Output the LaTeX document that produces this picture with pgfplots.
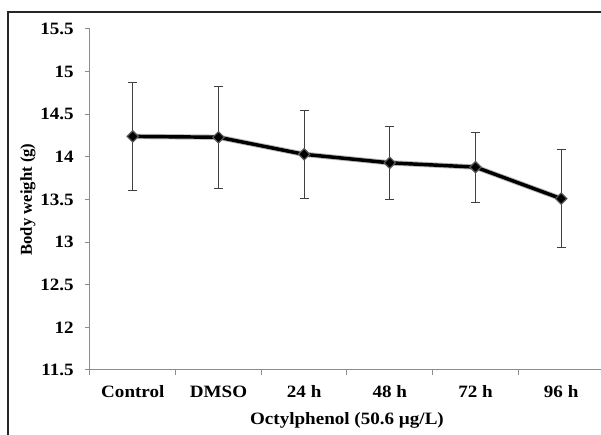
\documentclass[border=0pt]{standalone}
\usepackage{fontspec}
\setmainfont{Liberation Serif}
\newfontfamily\widefont{Liberation Serif}[FakeStretch=1.1]
\usepackage{pgfplots}
\usepackage{pgfplotstable}
\pgfplotsset{compat=1.18}
\definecolor{axisgray}{HTML}{8C8C8C}
\definecolor{errgray}{HTML}{404040}

% body weight, mean and SD
\pgfplotstableread{
x  y      e
0  14.24  0.635
1  14.23  0.600
2  14.03  0.515
3  13.93  0.430
4  13.88  0.410
5  13.51  0.575
}\bodyw

\begin{document}
\begin{tikzpicture}[x=0.75pt,y=0.75pt]
\fill[white] (0,0) rectangle (601,435);
% outer chart frame (cut off on the right and bottom)
\draw[line width=1pt, black!85] (8,-5) -- (8,423) -- (620,423);
\begin{axis}[
  at={(67.5pt,48.75pt)}, anchor=south west,
  width=385.5pt, height=255.75pt, scale only axis,
  xmin=-0.5, xmax=5.5, ymin=11.5, ymax=15.5,
  axis x line*=bottom, axis y line*=left,
  axis line style={draw=axisgray, line width=0.75pt, -},
  xtick={-0.5,0.5,...,5.5},
  x tick label as interval,
  xticklabels={Control,DMSO,24 h,48 h,72 h,96 h},
  ytick={11.5,12,...,15.5},
  tick align=outside, major tick length=3.75pt,
  tick style={draw=axisgray, line width=0.75pt},
  /pgf/number format/assume math mode=true,
  tick label style={font=\fontsize{13}{15}\selectfont\widefont\bfseries},
  xticklabel style={yshift=-4.5pt},
  yticklabel style={xshift=-5pt},
  xlabel={Octylphenol (50.6 µg/L)},
  ylabel={Body weight (g)},
  xlabel style={font=\fontsize{13}{15}\selectfont\widefont\bfseries,
    at={(axis description cs:0.5,-0.1466)}, anchor=center},
  ylabel style={font=\fontsize{12.5}{14}\selectfont\bfseries,
    at={(axis description cs:-0.1206,0.5)}, anchor=center, rotate=0},
  clip=false,
]
\addplot[draw=gray, line width=4pt, opacity=0.55, forget plot]
  table[x=x,y=y]{\bodyw};
\addplot[black, line width=2.6pt,
  mark=square*, mark size=3pt,
  mark options={rotate=45, fill=black, draw=gray!70!black, line width=0.9pt},
  error bars/.cd, y dir=both, y explicit,
  error bar style={draw=errgray, line width=0.75pt},
  error mark options={rotate=90, draw=errgray, line width=0.75pt, mark size=3.4pt}]
  table[x=x,y=y,y error=e]{\bodyw};
\end{axis}
\pgfresetboundingbox
\path[use as bounding box] (0,0) rectangle (601,435);
\end{tikzpicture}
\end{document}
